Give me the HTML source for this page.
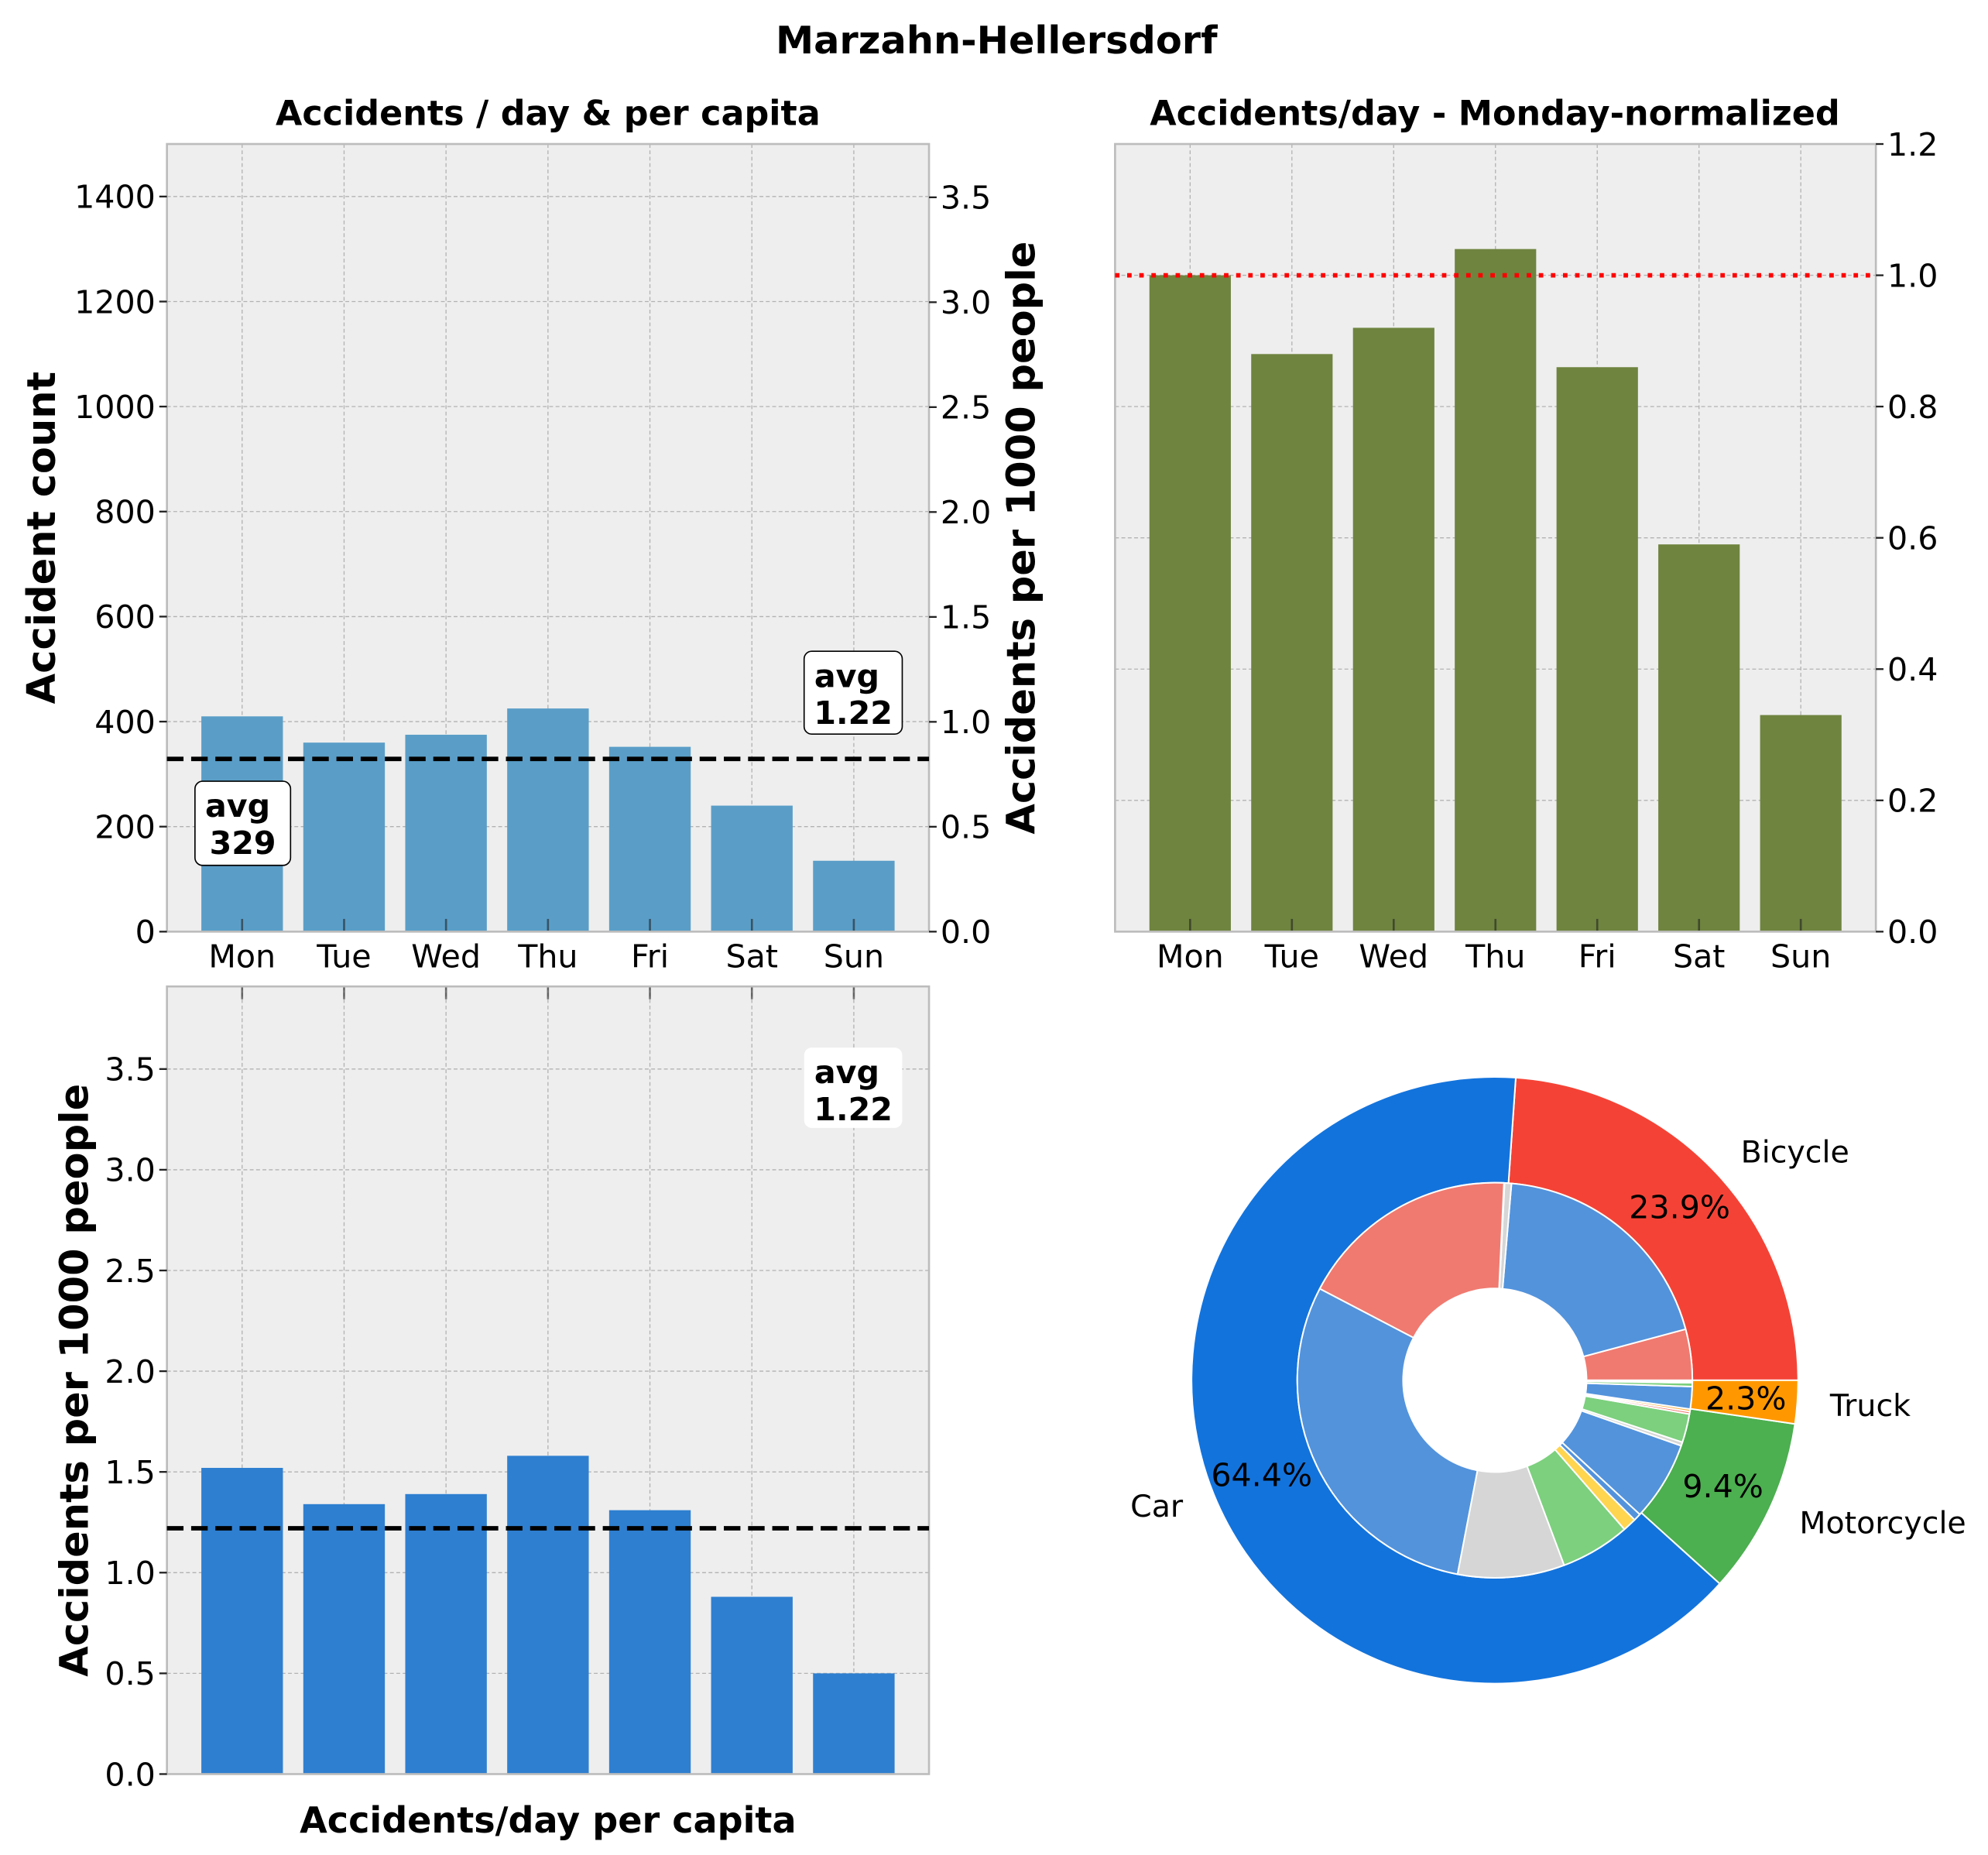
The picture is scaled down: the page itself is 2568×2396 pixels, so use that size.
<!DOCTYPE html>
<html><head><meta charset="utf-8"><style>
html,body{margin:0;padding:0;background:#fff;}
svg{display:block;font-family:"DejaVu Sans","Liberation Sans",sans-serif;}
</style></head><body>
<svg id="fig" width="2568" height="2396" viewBox="0 0 1560 1455.5" preserveAspectRatio="none" xmlns="http://www.w3.org/2000/svg">
<text x="782" y="42" text-anchor="middle" font-size="30" font-weight="bold">Marzahn-Hellersdorf</text>
<g id="g1"></g>
<g id="g2"></g>
<g id="g3"></g>
<g id="g4"></g>
</svg>
<script>
const days = ["Mon","Tue","Wed","Thu","Fri","Sat","Sun"];
const counts = [410, 360, 375, 425, 352, 240, 135];
const countAvg = 329;
const countTicks = [0,200,400,600,800,1000,1200,1400];
const perCapTicks = [0,0.5,1.0,1.5,2.0,2.5,3.0,3.5];
const normValues = [1.0, 0.88, 0.92, 1.04, 0.86, 0.59, 0.33];
const normTicks = [0,0.2,0.4,0.6,0.8,1.0,1.2];
const perCapita = [1.52, 1.34, 1.39, 1.58, 1.31, 0.88, 0.50];
const perCapAvg = 1.22;
const outerLabels = ["Bicycle","Car","Motorcycle","Truck"];
const outerPct = [23.9, 64.4, 9.4, 2.3];
const outerColors = ["#f44336","#1373dc","#4caf50","#ff9800"];
const innerPct = [4.1, 19.2, 0.55, 0.05, 17.8, 29.2, 8.6, 5.6, 1.1, 0.6, 6.4, 0.3, 2.3, 0.2, 0.2, 1.8, 0.3, 0.2];
const innerColors = ["#f07a70","#5393dc","#d6d6d6","#ffcc44","#f07a70","#5393dc","#d6d6d6","#7cd07e","#ffd54f","#5393dc","#5393dc","#d6d6d6","#7cd07e","#f07a70","#ffb040","#5393dc","#7cd07e","#ffffff"];

const NS="http://www.w3.org/2000/svg";
function el(parent, tag, attrs, text){
  const e=document.createElementNS(NS,tag);
  for(const k in attrs) e.setAttribute(k, attrs[k]);
  if(text!==undefined) e.textContent=text;
  parent.appendChild(e); return e;
}
function fmt1(v){return v.toFixed(1);}

function barPanel(g, box, ymax, values, color, opts){
  const {x0,x1,y0,y1}=box;
  const xs=i=> x0 + (i+0.7375)*(x1-x0)/(6+1.475);
  const bw=0.8*(x1-x0)/(6+1.475);
  const ys=v=> y1 - v/ymax*(y1-y0);
  const bg=el(g,'rect',{x:x0,y:y0,width:x1-x0,height:y1-y0,fill:'#eeeeee'});
  
  
  for(let i=0;i<days.length;i++){
    const l=el(g,'line',{x1:xs(i),x2:xs(i),y1:y0,y2:y1,stroke:'#b2b2b2','stroke-width':0.8,'stroke-dasharray':'3,2'});
    
    
  }
  opts.gridTicks.forEach(t=>{
    const l=el(g,'line',{x1:x0,x2:x1,y1:opts.gridY(t),y2:opts.gridY(t),stroke:'#b2b2b2','stroke-width':0.8,'stroke-dasharray':'3,2'});
    
    
  });
  values.forEach((v,i)=>{
    const r=el(g,'rect',{x:xs(i)-bw/2,y:ys(v),width:bw,height:y1-ys(v),fill:color});
    
    
  });
  for(let i=0;i<days.length;i++){
    const ty = opts.topTicks ? y0 : y1;
    const d = opts.topTicks ? 1 : -1;
    const t=el(g,'line',{x1:xs(i),x2:xs(i),y1:ty,y2:ty+d*10,stroke:'#222','stroke-width':1.6,opacity:0.6});
    
    
    if(opts.xLabels){
      const tl=el(g,'text',{x:xs(i),y:y1+28,'text-anchor':'middle','font-size':25},days[i]);
      
      
    }
  }
  const fr=el(g,'rect',{x:x0,y:y0,width:x1-x0,height:y1-y0,fill:'none',stroke:'#bcbcbc','stroke-width':1.6});
  
  
  return {xs,ys};
}
function yAxis(g, side, x, ticks, ymax, y0, y1, labelFmt){
  ticks.forEach(t=>{
    const y=y1 - t/ymax*(y1-y0);
    const dx = side==='left' ? -1 : 1;
    const tk=el(g,'line',{x1:x,x2:x+dx*6,y1:y,y2:y,stroke:'#222','stroke-width':1.4});
    
    
    const tl=el(g,'text',{x:x+dx*9,y:y+9,'text-anchor':side==='left'?'end':'start','font-size':25},labelFmt(t));
    
    
  });
}
function avgBox(g, x, y, w, h, l1, l2, border, name){
  const bx=el(g,'g',{});
  
  
  el(bx,'rect',{x:x,y:y,width:w,height:h,rx:6,fill:'#fff',stroke:border?'#000':'none','stroke-width':1});
  el(bx,'text',{x:x+8,y:y+28,'font-size':25,'font-weight':'bold'},l1);
  el(bx,'text',{x:x+w/2,y:y+57,'font-size':25,'font-weight':'bold','text-anchor':'middle'},l2);
}

(function(){
  const g=document.getElementById('g1');
  const box={x0:131,x1:729,y0:113,y1:731};
  const ymax=1500;
  const ys=v=>box.y1 - v/ymax*(box.y1-box.y0);
  barPanel(g,box,ymax,counts,'#5a9ec8',{gridTicks:countTicks.slice(1),gridY:ys,xLabels:true});
  yAxis(g,'left',box.x0,countTicks,ymax,box.y0,box.y1,t=>String(t));
  yAxis(g,'right',box.x1,perCapTicks,3.754,box.y0,box.y1,fmt1);
  const al=el(g,'line',{x1:box.x0,x2:box.x1,y1:ys(countAvg),y2:ys(countAvg),stroke:'#000','stroke-width':3.5,'stroke-dasharray':'13,6'});
  
  
  avgBox(g,153,613,75,66,'avg','329',true,'avg-count-box');
  avgBox(g,631,511,77,65,'avg','1.22',true,'avg-per-capita-box');
  const t=el(g,'text',{x:430,y:98,'text-anchor':'middle','font-size':27,'font-weight':'bold'},'Accidents / day & per capita');
  
  
  const yl=el(g,'text',{x:0,y:0,transform:'translate(43,422) rotate(-90)','text-anchor':'middle','font-size':31,'font-weight':'bold'},'Accident count');
  
  
  const yr=el(g,'text',{x:0,y:0,transform:'translate(812,422) rotate(-90)','text-anchor':'middle','font-size':31,'font-weight':'bold'},'Accidents per 1000 people');
  
  
})();

(function(){
  const g=document.getElementById('g2');
  const box={x0:875,x1:1472,y0:113,y1:731};
  const ymax=1.2;
  const ys=v=>box.y1 - v/ymax*(box.y1-box.y0);
  barPanel(g,box,ymax,normValues,'#6f843f',{gridTicks:normTicks.slice(1,6),gridY:ys,xLabels:true});
  yAxis(g,'right',box.x1,normTicks,ymax,box.y0,box.y1,fmt1);
  const rl=el(g,'line',{x1:box.x0,x2:box.x1,y1:ys(1.0),y2:ys(1.0),stroke:'#ff0000','stroke-width':3.5,'stroke-dasharray':'3.5,6'});
  
  
  const t=el(g,'text',{x:1173,y:98,'text-anchor':'middle','font-size':27,'font-weight':'bold'},'Accidents/day - Monday-normalized');
  
  
})();

(function(){
  const g=document.getElementById('g3');
  const box={x0:131,x1:729,y0:774,y1:1392};
  const ymax=3.91;
  const ys=v=>box.y1 - v/ymax*(box.y1-box.y0);
  barPanel(g,box,ymax,perCapita,'#2e7fd0',{gridTicks:perCapTicks.slice(1),gridY:ys,xLabels:false,topTicks:true});
  yAxis(g,'left',box.x0,perCapTicks,ymax,box.y0,box.y1,fmt1);
  const al=el(g,'line',{x1:box.x0,x2:box.x1,y1:ys(perCapAvg),y2:ys(perCapAvg),stroke:'#000','stroke-width':3.5,'stroke-dasharray':'13,6'});
  
  
  avgBox(g,631,822,77,63,'avg','1.22',false,'avg-per-capita-box');
  const xl=el(g,'text',{x:430,y:1438,'text-anchor':'middle','font-size':28,'font-weight':'bold'},'Accidents/day per capita');
  
  
  const yl=el(g,'text',{x:0,y:0,transform:'translate(69,1083) rotate(-90)','text-anchor':'middle','font-size':31,'font-weight':'bold'},'Accidents per 1000 people');
  
  
})();

(function(){
  const g=document.getElementById('g4');
  const cx=1173, cy=1083, R=238, Ri=155, Rh=72;
  function wedge(a0,a1,r0,r1,color){
    const p=(a,r)=>[cx+r*Math.cos(a*Math.PI/180), cy-r*Math.sin(a*Math.PI/180)];
    const large=(a1-a0)>180?1:0;
    const [x1,y1]=p(a0,r1),[x2,y2]=p(a1,r1),[x3,y3]=p(a1,r0),[x4,y4]=p(a0,r0);
    return el(g,'path',{d:`M${x1},${y1} A${r1},${r1} 0 ${large} 0 ${x2},${y2} L${x3},${y3} A${r0},${r0} 0 ${large} 1 ${x4},${y4} Z`,fill:color,stroke:'#fff','stroke-width':1.2});
  }
  let a=0;
  const labelPos=[[1366,912,'start'],[887,1190,'start'],[1412,1203,'start'],[1436,1111,'start']];
  const pctPos=[[1318,956],[990,1166],[1352,1175],[1370,1106]];
  outerPct.forEach((p,i)=>{
    const w=p*3.6;
    const wd=wedge(a,a+w,Ri,R,outerColors[i]);
    
    
    const lb=el(g,'text',{x:labelPos[i][0],y:labelPos[i][1],'font-size':24,'text-anchor':labelPos[i][2]},outerLabels[i]);
    
    
    const pc=el(g,'text',{x:pctPos[i][0],y:pctPos[i][1],'font-size':25,'text-anchor':'middle'},p.toFixed(1)+'%');
    
    
    a+=w;
  });
  const tot=innerPct.reduce((s,v)=>s+v,0);
  a=0;
  innerPct.forEach((p,i)=>{
    const w=p/tot*360;
    const wd=wedge(a,a+w,Rh,Ri,innerColors[i]);
    
    
    a+=w;
  });
})();
</script>
</body></html>
